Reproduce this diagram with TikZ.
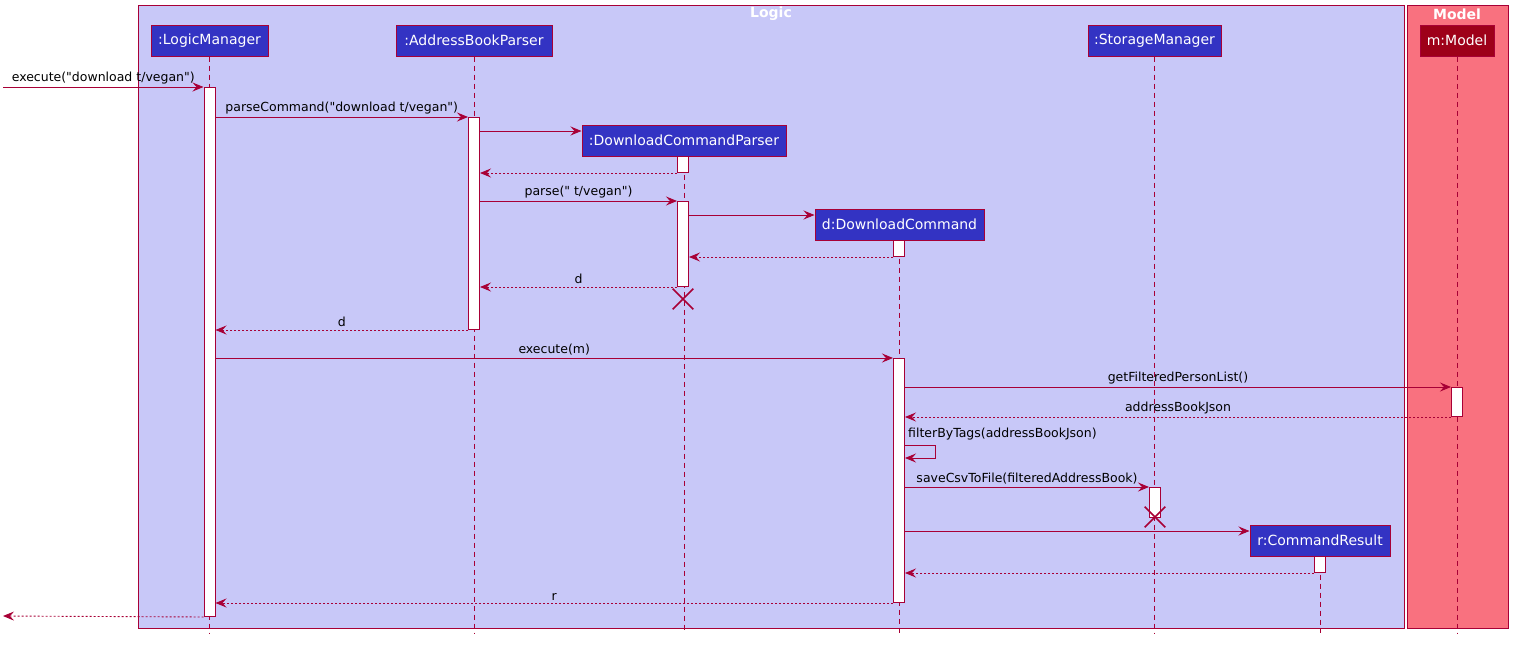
\documentclass[tikz,border=0pt]{standalone}
\usepackage{fontspec}
\setmainfont{DejaVu Sans}[Ligatures=TeXOff]
\usetikzlibrary{arrows.meta,shapes.misc}
\definecolor{crim}{HTML}{A80036}
\definecolor{logicfill}{HTML}{C8C8F8}
\definecolor{modelfill}{HTML}{F9717F}
\definecolor{partfill}{HTML}{3333C3}
\definecolor{modelpart}{HTML}{9E0019}
\newcommand{\qq}{\symbol{34}}
\tikzset{
  grp/.style={draw=crim, line width=1pt},
  grptitle/.style={text=white, font=\fontsize{14}{16}\selectfont\bfseries, inner sep=0pt},
  part/.style={draw=crim, line width=1pt, fill=partfill, text=white, minimum height=31pt, inner sep=0pt, font=\fontsize{14}{16}\selectfont},
  life/.style={draw=crim, line width=0.8pt, dash pattern=on 5pt off 4pt},
  actbar/.style={draw=crim, fill=white, line width=1pt, minimum width=11pt, inner sep=0pt, anchor=north},
  msg/.style={draw=crim, line width=0.9pt, -{Stealth[length=11pt,width=9pt,inset=4pt]}},
  ret/.style={msg, dash pattern=on 2pt off 2pt},
  lbl/.style={text=black, font=\fontsize{12.5}{14}\selectfont, inner sep=1pt, above=1.5pt},
  destroy/.style={draw=crim, cross out, line width=1.6pt, minimum size=19pt, inner sep=0pt}
}
\begin{document}
\begin{tikzpicture}[x=1pt,y=-1pt]
\useasboundingbox (0,0) rectangle (1518,645);
% groups
\path[grp, fill=logicfill] (138,5) rectangle (1404,628);
\path[grp, fill=modelfill] (1407,5) rectangle (1508,628);
\node[grptitle] (logicT) at (771,14) {Logic};
\node[grptitle] (modelT) at (1457,14) {Model};
% participants
\node[part, minimum width=117pt] (lm) at (209.5,40.5) {:LogicManager};
\node[part, minimum width=156pt] (abp) at (474,40.5) {:AddressBookParser};
\node[part, minimum width=204pt] (dcp) at (684,140.5) {:DownloadCommandParser};
\node[part, minimum width=169pt] (dc) at (899.5,224.5) {d:DownloadCommand};
\node[part, minimum width=133pt] (sm) at (1154.5,40.5) {:StorageManager};
\node[part, minimum width=74pt, fill=modelpart] (mm) at (1457,40.5) {m:Model};
\node[part, minimum width=140pt] (cr) at (1320,540.5) {r:CommandResult};
% lifelines
\foreach \n in {lm,abp,dcp,dc,sm,mm,cr} \draw[life] (\n.south) -- (\n.south |- 0,633);
% activations
\node[actbar, minimum height=529pt] (aLM) at (209.5,87) {};
\node[actbar, minimum height=212pt] (aABP) at (474,117) {};
\node[actbar, minimum height=16pt] (aDCP1) at (683,156) {};
\node[actbar, minimum height=85pt] (aDCP2) at (683,201) {};
\node[actbar, minimum height=16pt] (aDC1) at (899,240) {};
\node[actbar, minimum height=244pt] (aDC2) at (899,358) {};
\node[actbar, minimum height=29pt] (aM) at (1457,387) {};
\node[actbar, minimum height=30pt] (aSM) at (1155,487) {};
\node[actbar, minimum height=16pt] (aCR) at (1320,556) {};
% destroys
\node[destroy] (xDCP) at (683,299) {};
\node[destroy] (xSM) at (1155,517) {};
% entry / exit
\coordinate (in) at (3,87);
\coordinate (out) at (3,616);
% messages
\draw[msg] (in) -- node[lbl] {execute(\qq download t/vegan\qq)} (aLM.west |- in);
\draw[msg] (aLM.east |- 0,117) -- node[lbl] {parseCommand(\qq download t/vegan\qq)} (aABP.west |- 0,117);
\draw[msg] (aABP.east |- 0,131) -- (dcp.west |- 0,131);
\draw[ret] (aDCP1.south west) -- (aABP.east |- aDCP1.south);
\draw[msg] (aABP.east |- 0,201) -- node[lbl] {parse(\qq\ t/vegan\qq)} (aDCP2.north west);
\draw[msg] (aDCP2.east |- 0,215) -- (dc.west |- 0,215);
\draw[ret] (aDC1.south west) -- (aDCP2.east |- aDC1.south);
\draw[ret] (aDCP2.south west) -- node[lbl] {d} (aABP.east |- aDCP2.south);
\draw[ret] (aABP.south west) -- node[lbl] {d} (aLM.east |- aABP.south);
\draw[msg] (aLM.east |- 0,358) -- node[lbl] {execute(m)} (aDC2.north west);
\draw[msg] (aDC2.east |- 0,387) -- node[lbl] {getFilteredPersonList()} (aM.north west);
\draw[ret] (aM.south west) -- node[lbl] {addressBookJson} (aDC2.east |- aM.south);
\draw[msg] (aDC2.east |- 0,445) -- ++(30,0) -- ++(0,13) -- (aDC2.east |- 0,458);
\node[lbl, anchor=south west] (fbt) at (907,443) {filterByTags(addressBookJson)};
\draw[msg] (aDC2.east |- 0,487) -- node[lbl] {saveCsvToFile(filteredAddressBook)} (aSM.north west);
\draw[msg] (aDC2.east |- 0,531) -- (cr.west |- 0,531);
\draw[ret] (aCR.south west) -- (aDC2.east |- aCR.south);
\draw[ret] (aDC2.south west) -- node[lbl] {r} (aLM.east |- aDC2.south);
\draw[ret] (aLM.south west) -- (out);
\end{tikzpicture}
\end{document}
